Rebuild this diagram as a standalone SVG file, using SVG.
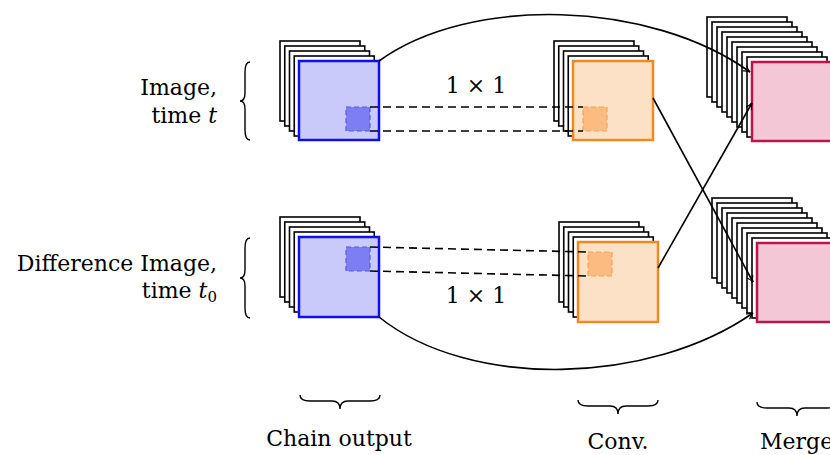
<svg xmlns="http://www.w3.org/2000/svg" width="830" height="455" viewBox="0 0 830 455">
<defs>
<style>
.sheet{fill:#fff;stroke:#000;stroke-width:1.6}
.blue{fill:#c9c9fa;stroke:#1010e8;stroke-width:2.5}
.orange{fill:#fde1c6;stroke:#f08a1e;stroke-width:2.5}
.merge{fill:#f3c7d6;stroke:#c0124c;stroke-width:2.5}
.bpatch{fill:#7d7df4;stroke:#5a5ad8;stroke-width:1.2;stroke-dasharray:5 3}
.opatch{fill:#fcbb80;stroke:#f5a257;stroke-width:1.2;stroke-dasharray:5 3}
.conn{fill:none;stroke:#000;stroke-width:1.6}
.dash{fill:none;stroke:#000;stroke-width:1.6;stroke-dasharray:8 5}
.brace{fill:none;stroke:#000;stroke-width:1.4}
text{font-family:"DejaVu Serif","Liberation Serif",serif;font-size:22px;fill:#000}
</style>
<marker id="arr" viewBox="0 0 10 10" refX="9" refY="5" markerWidth="8" markerHeight="8" markerUnits="userSpaceOnUse" orient="auto">
<path d="M1,1 Q5,4 9,5 Q5,6 1,9" fill="none" stroke="#000" stroke-width="1.4"/>
</marker>
</defs>

<g id="labels-left">
<path class="brace" d="M250,62 Q245,62 245,72 L245,93 Q245,101 240,101 Q245,101 245,109 L245,130 Q245,140 250,140"/>
<text x="217" y="95" text-anchor="end">Image,</text>
<text x="217" y="123" text-anchor="end">time <tspan font-style="italic">t</tspan></text>
<path class="brace" d="M250,238 Q245,238 245,248 L245,270 Q245,278 240,278 Q245,278 245,286 L245,308 Q245,318 250,318"/>
<text x="217" y="271" text-anchor="end">Difference Image,</text>
<text x="217" y="298" text-anchor="end">time <tspan font-style="italic">t</tspan><tspan font-size="15" dy="4">0</tspan></text>
</g>

<g id="chain-top">
<rect class="sheet" x="280" y="41" width="80" height="80"/>
<rect class="sheet" x="284.75" y="46" width="80" height="80"/>
<rect class="sheet" x="289.5" y="51" width="80" height="80"/>
<rect class="sheet" x="294.25" y="56" width="80" height="80"/>
<rect class="blue" x="299" y="61" width="80" height="79"/>
<rect class="bpatch" x="346" y="107" width="24" height="24"/>
</g>

<g id="chain-bottom">
<rect class="sheet" x="280" y="217" width="80" height="80"/>
<rect class="sheet" x="284.75" y="222" width="80" height="80"/>
<rect class="sheet" x="289.5" y="227" width="80" height="80"/>
<rect class="sheet" x="294.25" y="232" width="80" height="80"/>
<rect class="blue" x="299" y="237" width="80" height="80"/>
<rect class="bpatch" x="346" y="247" width="24" height="24"/>
</g>

<g id="conv-top">
<rect class="sheet" x="554" y="41" width="80" height="80"/>
<rect class="sheet" x="558.75" y="46" width="80" height="80"/>
<rect class="sheet" x="563.5" y="51" width="80" height="80"/>
<rect class="sheet" x="568.25" y="56" width="80" height="80"/>
<rect class="orange" x="573" y="61" width="80" height="79"/>
<rect class="opatch" x="583" y="107" width="24" height="24"/>
</g>

<g id="conv-bottom">
<rect class="sheet" x="559" y="222" width="80" height="80"/>
<rect class="sheet" x="563.75" y="227" width="80" height="80"/>
<rect class="sheet" x="568.5" y="232" width="80" height="80"/>
<rect class="sheet" x="573.25" y="237" width="80" height="80"/>
<rect class="orange" x="578" y="242" width="80" height="80"/>
<rect class="opatch" x="588" y="252" width="24" height="24"/>
</g>

<g id="merge-top">
<rect class="sheet" x="707" y="17" width="80" height="80"/>
<rect class="sheet" x="712" y="22" width="80" height="80"/>
<rect class="sheet" x="717" y="27" width="80" height="80"/>
<rect class="sheet" x="722" y="32" width="80" height="80"/>
<rect class="sheet" x="727" y="37" width="80" height="80"/>
<rect class="sheet" x="732" y="42" width="80" height="80"/>
<rect class="sheet" x="737" y="47" width="80" height="80"/>
<rect class="sheet" x="742" y="52" width="80" height="80"/>
<rect class="sheet" x="747" y="57" width="80" height="80"/>
<rect class="merge" x="752" y="62" width="80" height="79"/>
</g>

<g id="merge-bottom">
<rect class="sheet" x="712" y="198" width="80" height="80"/>
<rect class="sheet" x="717" y="203" width="80" height="80"/>
<rect class="sheet" x="722" y="208" width="80" height="80"/>
<rect class="sheet" x="727" y="213" width="80" height="80"/>
<rect class="sheet" x="732" y="218" width="80" height="80"/>
<rect class="sheet" x="737" y="223" width="80" height="80"/>
<rect class="sheet" x="742" y="228" width="80" height="80"/>
<rect class="sheet" x="747" y="233" width="80" height="80"/>
<rect class="sheet" x="752" y="238" width="80" height="80"/>
<rect class="merge" x="757" y="243" width="80" height="79"/>
</g>

<g id="connectors">
<path class="dash" d="M370,107 L583,107"/>
<path class="dash" d="M370,131 L583,131"/>
<path class="dash" d="M370,247 L588,252"/>
<path class="dash" d="M370,271 L588,276"/>
<path class="conn" d="M379,61 C470,-5 650,0 750,72" marker-end="url(#arr)"/>
<path class="conn" d="M379,317 C470,390 650,385 753,313" marker-end="url(#arr)"/>
<path class="conn" d="M653,98 L753,282" marker-end="url(#arr)"/>
<path class="conn" d="M658,268 L752,103" marker-end="url(#arr)"/>
<text x="476" y="93" text-anchor="middle">1 × 1</text>
<text x="476" y="303" text-anchor="middle">1 × 1</text>
</g>

<g id="labels-bottom">
<path class="brace" d="M300,395 Q300,401 310,401 L332,401 Q340,401 340,409 Q340,401 348,401 L370,401 Q380,401 380,395"/>
<text x="339" y="446" text-anchor="middle">Chain output</text>
<path class="brace" d="M578,400 Q578,406 588,406 L610,406 Q618,406 618,414 Q618,406 626,406 L648,406 Q658,406 658,400"/>
<text x="618" y="449" text-anchor="middle">Conv.</text>
<path class="brace" d="M757,402 Q757,408 767,408 L789,408 Q797,408 797,416 Q797,408 805,408 L827,408 Q837,408 837,402"/>
<text x="760" y="449">Merge</text>
</g>
</svg>
